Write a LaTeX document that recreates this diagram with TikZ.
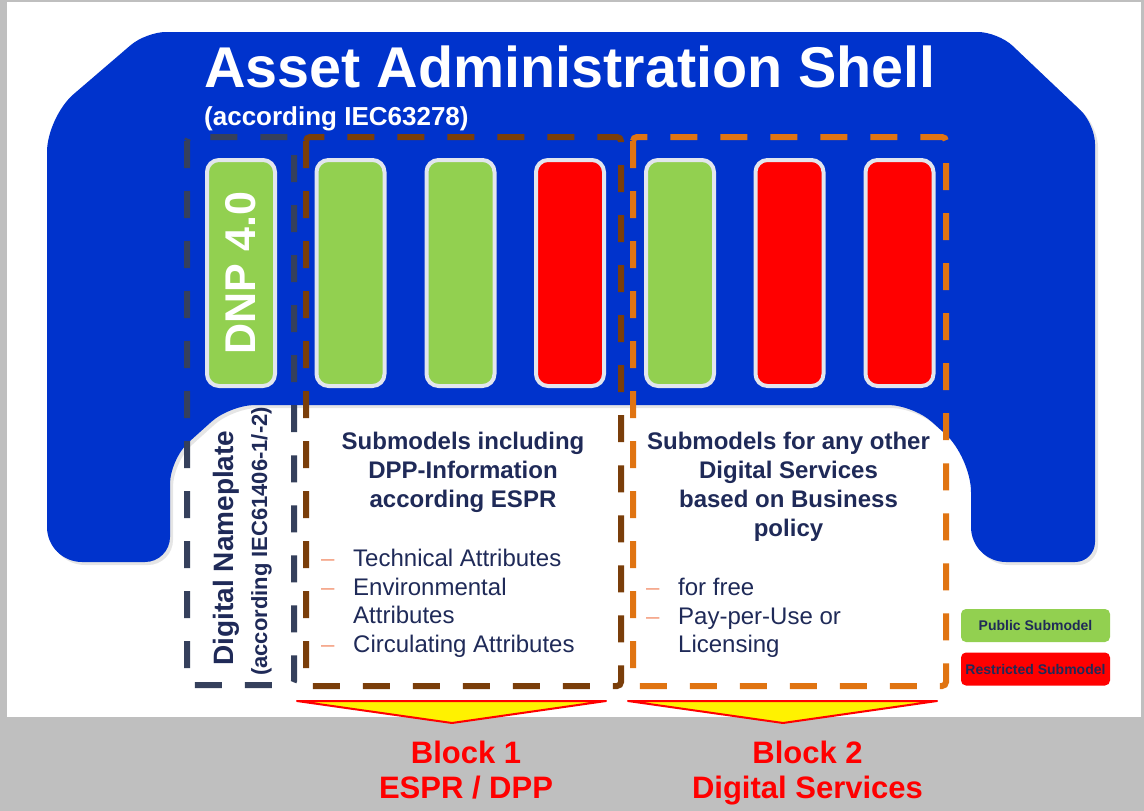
\documentclass[tikz,border=0pt]{standalone}
\usepackage{fontspec}
\setmainfont{Liberation Sans}
\usetikzlibrary{shadows}
\definecolor{aasblue}{RGB}{0,51,204}
\definecolor{pubgreen}{RGB}{146,208,80}
\definecolor{resred}{RGB}{255,0,0}
\definecolor{smframe}{RGB}{226,230,238}
\definecolor{nameline}{RGB}{53,64,92}
\definecolor{espline}{RGB}{122,62,10}
\definecolor{dsline}{RGB}{224,116,18}
\definecolor{navytext}{RGB}{31,42,88}
\definecolor{dashpink}{RGB}{244,160,130}
\definecolor{bandgray}{RGB}{191,191,191}

\begin{document}
\begin{tikzpicture}[x=1pt, y=-1pt,
        submodel/.style={rounded corners=12pt, draw=smframe, line width=4pt, minimum width=68pt, minimum height=226pt, inner sep=0pt},
        blockframe/.style={line width=6pt, rounded corners=4pt, dash pattern=on 27pt off 23pt},
        heading/.style={anchor=north, inner sep=0pt, align=center, text=navytext, font=\bfseries\fontsize{24}{29}\selectfont},
        dashmark/.style={anchor=base west, inner sep=0pt, text=dashpink, font=\fontsize{24}{29}\selectfont},
        item/.style={anchor=base west, inner sep=0pt, text=navytext, font=\fontsize{24}{29}\selectfont},
        legendbox/.style={minimum width=149pt, minimum height=33pt, rounded corners=5pt, inner sep=0pt, text=navytext, font=\bfseries\fontsize{14}{16}\selectfont},
        blocklabel/.style={anchor=north, inner sep=0pt, align=center, text=red, font=\bfseries\fontsize{31}{35}\selectfont},
        pointer/.style={fill=yellow, draw=red, line width=2pt, line join=round}]
                        \useasboundingbox (0,0) rectangle (1144,811);
                        \fill[bandgray] (0,0) rectangle (1144,811);
                        \fill[white] (7,2) rectangle (1141,717);

                        \fill[aasblue, drop shadow={shadow xshift=3pt, shadow yshift=-3pt, opacity=.2}]
                            (600,32) [rounded corners=20pt] -- (998,32) -- (1095,124) -- (1095,562)
                            [rounded corners=35pt] -- (971,562) -- (971,457)
                            [rounded corners=25pt] -- (913,405) -- (230,405) -- (170,459) -- (170,562)
                            [rounded corners=35pt] -- (47,562) -- (47,117)
                            [rounded corners=20pt] -- (146,32) -- cycle;

                        \node[anchor=base west, inner sep=0pt, text=white, font=\bfseries\fontsize{57.5}{62}\selectfont] (title) at (204,87) {Asset Administration Shell};
                        \node[anchor=base west, inner sep=0pt, text=white, font=\bfseries\fontsize{26}{30}\selectfont] (subtitle) at (204,125) {(according IEC63278)};

                        \node[submodel, fill=pubgreen] (dnp) at (241,273) {};
                        \node[submodel, fill=pubgreen] (smA) at (350.5,273) {};
                        \node[submodel, fill=pubgreen] (smB) at (460.5,273) {};
                        \node[submodel, fill=resred] (smC) at (570,273) {};
                        \node[submodel, fill=pubgreen] (smD) at (680,273) {};
                        \node[submodel, fill=resred] (smE) at (789.5,273) {};
                        \node[submodel, fill=resred] (smF) at (899.5,273) {};
                        \node[rotate=90, text=white, font=\bfseries\fontsize{43}{48}\selectfont] (dnplabel) at (dnp) {DNP 4.0};

                        \draw[blockframe, nameline] (187,137) rectangle (294,685);
                        \draw[blockframe, espline] (306,137) rectangle (621,686);
                        \draw[blockframe, dsline] (633,137) rectangle (946,686);

                        \node[rotate=90, anchor=base, inner sep=0pt, text=navytext, font=\bfseries\fontsize{28}{32}\selectfont] (plate) at (233,548) {Digital Nameplate};
                        \node[rotate=90, anchor=base, inner sep=0pt, text=navytext, font=\bfseries\fontsize{22}{26}\selectfont] (platenorm) at (267,541.5) {(according IEC61406-1/-2)};

                        \node[heading] (espr) at (463,431.5) {Submodels including\\DPP-Information\\according ESPR};
                        \node[dashmark] (esprdA) at (321,566) {–};
                        \node[item] (espriA) at (353,566) {Technical Attributes};
                        \node[dashmark] (esprdB) at (321,595) {–};
                        \node[item] (espriB) at (353,595) {Environmental};
                        \node[item] (espriC) at (353,623) {Attributes};
                        \node[dashmark] (esprdC) at (321,652) {–};
                        \node[item] (espriD) at (353,652) {Circulating Attributes};

                        \node[heading] (services) at (788.5,431.5) {Submodels for any other\\Digital Services\\based on Business\\policy};
                        \node[dashmark] (servdA) at (646,595) {–};
                        \node[item] (serviA) at (678,595) {for free};
                        \node[dashmark] (servdB) at (646,624) {–};
                        \node[item] (serviB) at (678,624) {Pay-per-Use or};
                        \node[item] (serviC) at (678,652) {Licensing};

                        \node[legendbox, fill=pubgreen] (legpub) at (1035.5,625.5) {Public Submodel};
                        \node[legendbox, fill=resred] (legres) at (1035.5,669) {Restricted Submodel};

                        \filldraw[pointer] (297,701) -- (606,701) -- (452,723) -- cycle;
                        \filldraw[pointer] (628,701) -- (937,701) -- (783,723) -- cycle;

                        \node[blocklabel] (blockA) at (466,741) {Block 1\\ESPR / DPP};
                        \node[blocklabel] (blockB) at (807.5,741) {Block 2\\Digital Services};
                    \end{tikzpicture}
\end{document}
